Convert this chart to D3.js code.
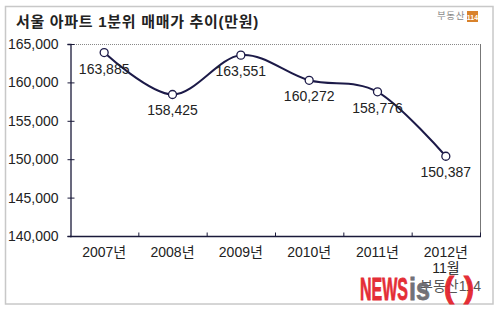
<!DOCTYPE html>
<html>
<head>
<meta charset="utf-8">
<script src="https://cdn.jsdelivr.net/npm/d3@7/dist/d3.min.js"></script>
<style>
  html, body { margin: 0; padding: 0; background: #fff; }
  svg { display: block; }
  text { font-family: "Liberation Sans", Arial, "Noto Sans CJK KR", sans-serif; }
</style>
</head>
<body>
<svg id="chart" width="499" height="322"></svg>
<script>
// Seoul apartment bottom-quintile sale price trend (unit: 10,000 KRW)
const categories = ["2007년", "2008년", "2009년", "2010년", "2011년", "2012년\n11월"];
const prices = [163885, 158425, 163551, 160272, 158776, 150387];
const yTicks = [140000, 145000, 150000, 155000, 160000, 165000];
const title = "서울 아파트 1분위 매매가 추이(만원)";
const source = "부동산114";

const svg = d3.select("#chart");
const fmt = d3.format(",");

// outer frame
svg.append("rect")
  .attr("x", 5.5).attr("y", 6.5).attr("width", 487.5).attr("height", 297.5)
  .attr("fill", "#fff").attr("stroke", "#c8c8c8").attr("stroke-width", 1.5);

// title
svg.append("text")
  .attr("x", 16).attr("y", 27)
  .attr("font-size", 15).attr("font-weight", "bold").attr("fill", "#222")
  .attr("letter-spacing", 0.7)
  .attr("font-family", "'Noto Sans CJK KR', sans-serif")
  .text(title);

// small brand mark, top right
const brand = svg.append("g");
brand.append("text")
  .attr("x", 465).attr("y", 19).attr("text-anchor", "end")
  .attr("font-size", 9.5).attr("fill", "#888")
  .attr("letter-spacing", 0.6)
  .attr("font-family", "'Noto Sans CJK KR', sans-serif")
  .text("부동산");
brand.append("rect")
  .attr("x", 467).attr("y", 11).attr("width", 11).attr("height", 11)
  .attr("fill", "#d9822b");
brand.append("text")
  .attr("x", 472.5).attr("y", 20).attr("text-anchor", "middle")
  .attr("font-size", 7).attr("font-weight", "bold").attr("fill", "#fff")
  .text("114");

const plot = { left: 70, right: 480, top: 44, bottom: 236 };

const x = d3.scaleBand().domain(categories).range([plot.left, plot.right]).padding(0);
const y = d3.scaleLinear().domain([140000, 165000]).range([plot.bottom, plot.top]);

// plot frame: dotted top edge, grey right edge
svg.append("line")
  .attr("x1", plot.left).attr("x2", plot.right).attr("y1", plot.top + 0.5).attr("y2", plot.top + 0.5)
  .attr("stroke", "#888").attr("stroke-dasharray", "1,1");
svg.append("line")
  .attr("x1", plot.right + 0.5).attr("x2", plot.right + 0.5).attr("y1", plot.top).attr("y2", plot.bottom)
  .attr("stroke", "#777");

// y axis
const yAxis = svg.append("g")
  .attr("transform", `translate(${plot.left + 0.5},0)`)
  .call(d3.axisLeft(y).tickValues(yTicks).tickFormat(fmt).tickSize(3).tickPadding(9));
yAxis.select(".domain").attr("stroke", "#1a1a3a").attr("stroke-width", 1.3);
yAxis.selectAll(".tick line").attr("stroke", "#1a1a3a").attr("x2", 4).attr("x1", -3);
yAxis.selectAll(".tick text").attr("font-size", 14).attr("fill", "#222")
  .attr("font-family", "'Liberation Sans', Arial, sans-serif");

// x axis with inward ticks at category boundaries
const xAxis = svg.append("g")
  .attr("transform", `translate(0,${plot.bottom + 0.5})`);
xAxis.append("line")
  .attr("x1", plot.left).attr("x2", plot.right + 1)
  .attr("stroke", "#1a1a3a").attr("stroke-width", 1.3);
xAxis.selectAll("line.bt")
  .data(categories.slice(1))
  .join("line")
  .attr("class", "bt")
  .attr("x1", d => x(d) + 0.5).attr("x2", d => x(d) + 0.5)
  .attr("y1", 0).attr("y2", -4)
  .attr("stroke", "#1a1a3a");
xAxis.append("line")
  .attr("x1", plot.right + 0.5).attr("x2", plot.right + 0.5).attr("y1", 0).attr("y2", -4)
  .attr("stroke", "#1a1a3a");

const xl = xAxis.selectAll("text.xl")
  .data(categories)
  .join("text")
  .attr("class", "xl")
  .attr("text-anchor", "middle")
  .attr("font-size", 14).attr("fill", "#222")
  .attr("transform", d => `translate(${x(d) + x.bandwidth() / 2},20)`);
xl.selectAll("tspan")
  .data(d => d.split("\n"))
  .join("tspan")
  .attr("x", 0)
  .attr("dy", (d, i) => i === 0 ? 0 : 16.5)
  .text(d => d);

// series
const pts = categories.map((c, i) => ({ c, v: prices[i] }));
const line = d3.line()
  .x(d => x(d.c) + x.bandwidth() / 2)
  .y(d => y(d.v))
  .curve(d3.curveCardinal.tension(0));

svg.append("path")
  .datum(pts)
  .attr("d", line)
  .attr("fill", "none")
  .attr("stroke", "#1c1a48")
  .attr("stroke-width", 2);

svg.selectAll("circle.pt")
  .data(pts)
  .join("circle")
  .attr("class", "pt")
  .attr("cx", d => x(d.c) + x.bandwidth() / 2)
  .attr("cy", d => y(d.v))
  .attr("r", 4)
  .attr("fill", "#fff")
  .attr("stroke", "#1c1a48")
  .attr("stroke-width", 1.3);

svg.selectAll("text.val")
  .data(pts)
  .join("text")
  .attr("class", "val")
  .attr("x", d => x(d.c) + x.bandwidth() / 2)
  .attr("y", d => y(d.v) + 21)
  .attr("text-anchor", "middle")
  .attr("font-size", 14).attr("fill", "#222")
  .text(d => fmt(d.v));

// source credit with news watermark over it
svg.append("text")
  .attr("x", 481).attr("y", 291).attr("text-anchor", "end")
  .attr("font-size", 14).attr("fill", "#555")
  .attr("font-family", "'Noto Sans CJK KR', sans-serif")
  .text(source);

const wm = svg.append("g").attr("opacity", 0.95);
const wmFont = "'Liberation Sans Narrow', 'Liberation Sans', sans-serif";
wm.append("text")
  .attr("x", 360).attr("y", 300)
  .attr("font-family", wmFont)
  .attr("font-weight", "bold").attr("font-size", 32)
  .attr("textLength", 48).attr("lengthAdjust", "spacingAndGlyphs")
  .attr("fill", "#e3232c").attr("stroke", "#e3232c").attr("stroke-width", 0.8)
  .text("NEWS");
wm.append("text")
  .attr("x", 409).attr("y", 300)
  .attr("font-family", wmFont)
  .attr("font-weight", "bold").attr("font-size", 32)
  .attr("textLength", 21).attr("lengthAdjust", "spacingAndGlyphs")
  .attr("fill", "#6b6b70").attr("stroke", "#6b6b70").attr("stroke-width", 0.8)
  .text("is");
wm.append("text")
  .attr("x", 444).attr("y", 298)
  .attr("font-family", wmFont)
  .attr("font-weight", "bold").attr("font-size", 30)
  .attr("fill", "#e3232c").attr("stroke", "#e3232c").attr("stroke-width", 1)
  .text("(");
wm.append("text")
  .attr("x", 464).attr("y", 298)
  .attr("font-family", wmFont)
  .attr("font-weight", "bold").attr("font-size", 30)
  .attr("fill", "#e3232c").attr("stroke", "#e3232c").attr("stroke-width", 1)
  .text(")");
</script>
</body>
</html>
